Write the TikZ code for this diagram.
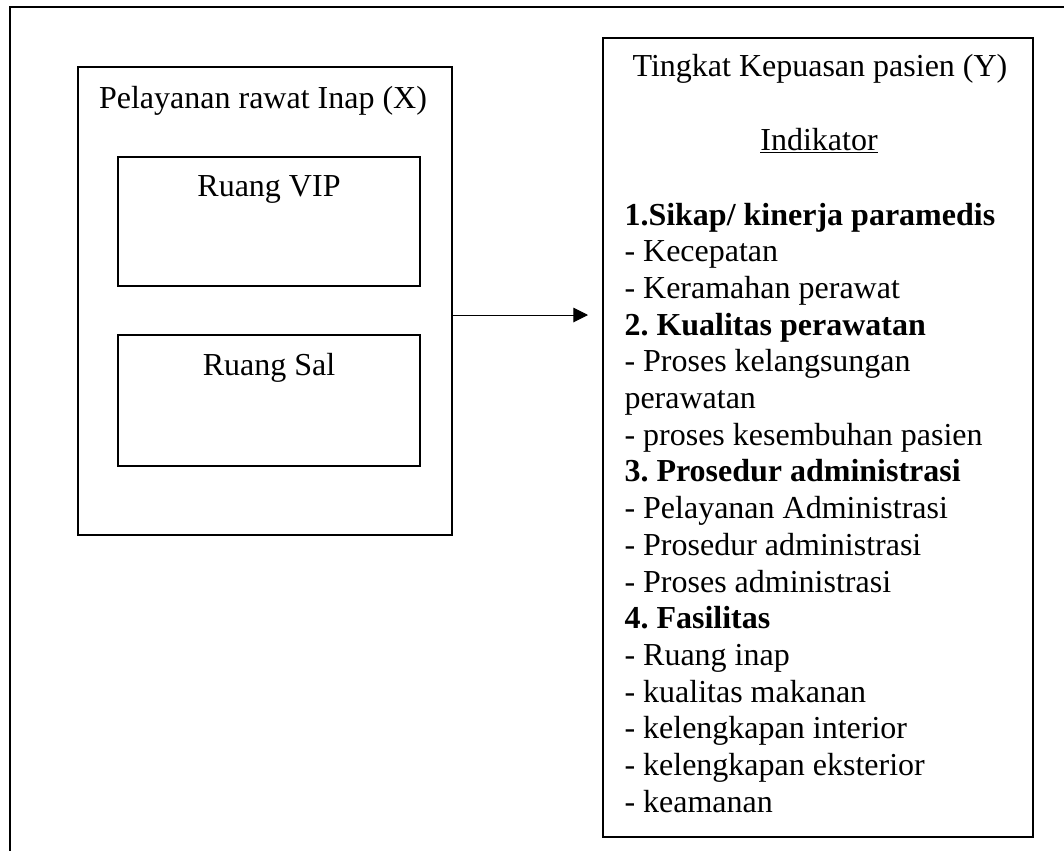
\documentclass[tikz,border=0pt]{standalone}
\usepackage{fontspec}
\setmainfont{Liberation Serif}
\usetikzlibrary{arrows.meta}
\frenchspacing

\tikzset{every picture/.style={line width=0.75pt}}
\tikzset{
kotak/.style={draw, line width=1pt, inner sep=0pt},
teks/.style={inner sep=0pt, font=\fontsize{24}{27.6}\selectfont},
butir/.style={teks, anchor=base west},
judul/.style={teks, anchor=base}}

\begin{document}
\begin{tikzpicture}[x=0.75pt,y=0.75pt,yscale=-1,xscale=1]
\useasboundingbox (0,0) rectangle (1064,850);

%Outer frame (only top and left edges show)
\draw [line width=1.5pt]  (10,851) -- (10,7) -- (1065,7) ;

%Shape: Rectangle [id:rawatInap]
\node [kotak, minimum width=280.5pt, minimum height=351pt] (rawatInap) at (265,301) {};
%Shape: Rectangle [id:ruangVIP]
\node [kotak, minimum width=226.5pt, minimum height=96.75pt] (ruangVIP) at (269,221.5) {};
%Shape: Rectangle [id:ruangSal]
\node [kotak, minimum width=226.5pt, minimum height=98.25pt] (ruangSal) at (269,400.5) {};
%Shape: Rectangle [id:kepuasan]
\node [kotak, minimum width=322.5pt, minimum height=599.25pt] (kepuasan) at (818,437.5) {};

%Straight Lines [id:panah]
\coordinate (ujung) at (588,315);
\draw [-{Triangle[length=11pt,width=11pt]}]  (rawatInap.east |- ujung) -- (ujung) ;

% Text Node
\node [judul] (tX) at (263,108) {Pelayanan rawat Inap (X)};
% Text Node
\node [judul] (tVIP) at (269,196.7) {Ruang VIP};
% Text Node
\node [judul] (tSal) at (269,375) {Ruang Sal};
% Text Node
\node [judul] (tY) at (820,76) {Tingkat Kepuasan pasien (Y)};
% Text Node
\node [judul] (tInd) at (819,150) {\underline{Indikator}};

% Text Node
\node [butir] (b1) at (624,225) {\bfseries 1.Sikap/ kinerja paramedis};
% Text Node
\node [butir] (b2) at (624,261.7) {- Kecepatan};
% Text Node
\node [butir] (b3) at (624,298.4) {- Keramahan perawat};
% Text Node
\node [butir] (b4) at (624,335.1) {\bfseries 2. Kualitas perawatan};
% Text Node
\node [butir] (b5) at (624,371.8) {- Proses kelangsungan};
% Text Node
\node [butir] (b6) at (624,408.5) {perawatan};
% Text Node
\node [butir] (b7) at (624,445.2) {- proses kesembuhan pasien};
% Text Node
\node [butir] (b8) at (624,481.9) {\bfseries 3. Prosedur administrasi};
% Text Node
\node [butir] (b9) at (624,518.6) {- Pelayanan Administrasi};
% Text Node
\node [butir] (b10) at (624,555.3) {- Prosedur administrasi};
% Text Node
\node [butir] (b11) at (624,592) {- Proses administrasi};
% Text Node
\node [butir] (b12) at (624,628.7) {\bfseries 4. Fasilitas};
% Text Node
\node [butir] (b13) at (624,665.4) {- Ruang inap};
% Text Node
\node [butir] (b14) at (624,702.1) {- kualitas makanan};
% Text Node
\node [butir] (b15) at (624,738.8) {- kelengkapan interior};
% Text Node
\node [butir] (b16) at (624,775.5) {- kelengkapan eksterior};
% Text Node
\node [butir] (b17) at (624,812.2) {- keamanan};

\end{tikzpicture}
\end{document}
